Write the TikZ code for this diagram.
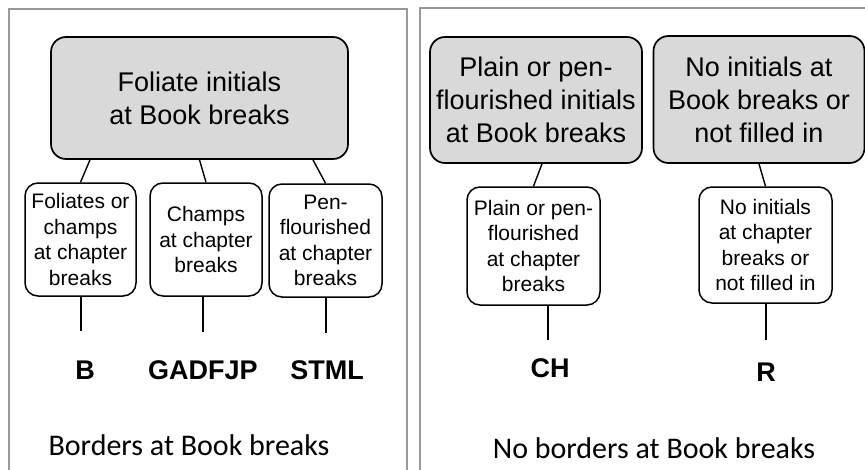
\documentclass[tikz,border=0pt]{standalone}
\usepackage{fontspec}
\setmainfont{Liberation Sans}
\newfontfamily\capfont{Carlito}
\usetikzlibrary{positioning}

\begin{document}
\begin{tikzpicture}[x=1pt, y=-1pt, line width=1.4pt]
    \tikzstyle{panel}=[draw=black!40, line width=2pt]
    \tikzstyle{parent}=[draw, rounded corners=15pt, fill=black!15, align=center, inner sep=0pt, line width=1.7pt, font=\fontsize{27}{33}\selectfont]
    \tikzstyle{child}=[draw, rounded corners=13pt, fill=white, align=center, inner sep=0pt, line width=1.5pt, font=\fontsize{21}{25.5}\selectfont]
    \tikzstyle{leaf}=[inner sep=0pt, font=\fontsize{27}{32}\selectfont\bfseries]
    \tikzstyle{caption}=[inner sep=0pt, font=\capfont\fontsize{30}{36}\selectfont]

    \useasboundingbox (0,0) rectangle (865,469);

    % two panels
    \draw[panel] (8.5,470) -- (8.5,8.5) -- (407,8.5) -- (407,470);
    \draw[panel] (420,470) -- (420,8) -- (866,8);

    % left panel
    \node[parent, minimum width=297pt, minimum height=122pt] (foliate) at (199.5,98) {Foliate initials\\at Book breaks};
    \node[child, minimum width=111pt, minimum height=113pt] (foliates) at (80.5,239.5) {Foliates or\\champs\\at chapter\\breaks};
    \node[child, minimum width=112pt, minimum height=113pt] (champs) at (206,239.5) {Champs\\at chapter\\breaks};
    \node[child, minimum width=113pt, minimum height=113pt] (penfl) at (325.5,240.5) {Pen-\\flourished\\at chapter\\breaks};

    \draw ([xshift=-109.5pt]foliate.south) -- (foliates.north);
    \draw (foliate.south) -- (champs.north);
    \draw ([xshift=113.5pt]foliate.south) -- (penfl.north);

    \node[leaf] (b) at (85,370) {B};
    \node[leaf] (gadfjp) at (203,370) {GADFJP};
    \node[leaf] (stml) at (327,370) {STML};

    \coordinate (endb) at (81,331);
    \coordinate (endg) at (203,332);
    \coordinate (ends) at (326,333);
    \draw (foliates.south -| endb) -- (endb);
    \draw (champs.south -| endg) -- (endg);
    \draw (penfl.south -| ends) -- (ends);

    \node[caption] (borders) at (189,445) {Borders at Book breaks};

    % right panel
    \node[parent, minimum width=212pt, minimum height=126pt] (plain) at (536,100) {Plain or pen-\\flourished initials\\at Book breaks};
    \node[parent, minimum width=211pt, minimum height=127pt] (noinit) at (759,99.5) {No initials at\\Book breaks or\\not filled in};
    \node[child, minimum width=133pt, minimum height=118pt] (plainch) at (533.5,246) {Plain or pen-\\flourished\\at chapter\\breaks};
    \node[child, minimum width=133pt, minimum height=116pt] (noinitch) at (765.5,245) {No initials\\at chapter\\breaks or\\not filled in};

    \draw ([xshift=6pt]plain.south) -- (plainch.north);
    \draw (noinit.south) -- (noinitch.north);

    \node[leaf] (ch) at (550,368) {CH};
    \node[leaf] (r) at (766,372) {R};

    \coordinate (endch) at (548,340);
    \coordinate (endr) at (766,340);
    \draw (plainch.south -| endch) -- (endch);
    \draw (noinitch.south -| endr) -- (endr);

    \node[caption] (noborders) at (654,448) {No borders at Book breaks};
\end{tikzpicture}
\end{document}
